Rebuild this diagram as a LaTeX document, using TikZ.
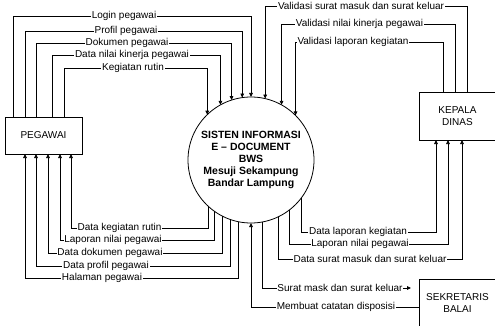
\documentclass[tikz,border=0pt]{standalone}
\usepackage{fontspec}
\setmainfont{Liberation Sans}
\usetikzlibrary{arrows.meta}
\begin{document}
\begin{tikzpicture}[x=1pt,y=-1pt,
  conn/.style={draw=black,line width=0.75pt},
  arr/.style={conn,-{Triangle[length=4pt,width=3.6pt]}},
  lbl/.style={fill=white,inner xsep=0.8pt,inner ysep=0pt,font=\fontsize{10}{11}\selectfont},
  ent/.style={draw,line width=0.8pt,inner sep=0pt,outer sep=0pt,minimum width=77pt,align=center,font=\fontsize{10}{12}\selectfont},
  proc/.style={draw,circle,line width=0.8pt,minimum size=126pt,inner sep=0pt,outer sep=0pt,align=center,font=\bfseries\fontsize{10.5}{12}\selectfont}]
\useasboundingbox (0,0) rectangle (495,326);

% entities and process
\node[ent,minimum height=37pt] (peg) at (43.5,135.5) {PEGAWAI};
\node[ent,minimum height=48pt] (kep) at (457.5,116) {KEPALA\\DINAS};
\node[ent,minimum height=48pt] (sek) at (457.5,303) {SEKRETARIS\\BALAI};
\node[proc] (circ) at (251,160) {SISTEN INFORMASI\\E -- DOCUMENT\\BWS\\Mesuji Sekampung\\Bandar Lampung};
\coordinate (sekin) at (411,288);

% PEGAWAI -> process (top)
\draw[arr] (peg.north -| 13,0) -- (13,16) -| (circ.90);
\draw[arr] (peg.north -| 25,0) -- (25,31) -| (circ.98.2);
\draw[arr] (peg.north -| 36,0) -- (36,43) -| (circ.108.5);
\draw[arr] (peg.north -| 52,0) -- (52,55) -| (circ.119.5);
\draw[arr] (peg.north -| 64,0) -- (64,68) -| (circ.134.3);

% KEPALA DINAS -> process (top)
\draw[arr] (kep.north -| 467,0) -- (467,6) -| (circ.77.2);
\draw[arr] (kep.north -| 455,0) -- (455,24) -| (circ.61.6);
\draw[arr] (kep.north -| 443,0) -- (443,42) -| (circ.45.7);

% process -> PEGAWAI (bottom)
\draw[arr] (circ.-133) |- (71,228) -- (peg.south -| 71,0);
\draw[arr] (circ.-126) |- (60,240) -- (peg.south -| 60,0);
\draw[arr] (circ.-117.4) |- (48,253) -- (peg.south -| 48,0);
\draw[arr] (circ.-109.5) |- (36,266) -- (peg.south -| 36,0);
\draw[arr] (circ.-102.8) |- (25,278) -- (peg.south -| 25,0);

% process -> KEPALA DINAS (bottom)
\draw[arr] (circ.-37.5) |- (436,232) -- (kep.south -| 436,0);
\draw[arr] (circ.-52.9) |- (448,244) -- (kep.south -| 448,0);
\draw[arr] (circ.-64.6) |- (462,259) -- (kep.south -| 462,0);

% process <-> SEKRETARIS BALAI
\draw[arr] (circ.-80.9) |- (sekin);
\draw[arr] (sek.west |- 0,307) -| (circ.-90);

% labels
\node[lbl] (t1) at (124,16) {Login pegawai};
\node[lbl] (t2) at (126,31) {Profil pegawai};
\node[lbl] (t3) at (127,43) {Dokumen pegawai};
\node[lbl] (t4) at (132,55) {Data nilai kinerja pegawai};
\node[lbl] (t5) at (133,68) {Kegiatan rutin};

\node[lbl] (v1) at (361,6) {Validasi surat masuk dan surat keluar};
\node[lbl] (v2) at (359.5,24) {Validasi nilai kinerja pegawai};
\node[lbl] (v3) at (353,42) {Validasi laporan kegiatan};

\node[lbl] (b1) at (119.5,228) {Data kegiatan rutin};
\node[lbl] (b2) at (113,240) {Laporan nilai pegawai};
\node[lbl] (b3) at (110,253) {Data dokumen pegawai};
\node[lbl] (b4) at (106,266) {Data profil pegawai};
\node[lbl] (b5) at (102,278) {Halaman pegawai};

\node[lbl] (k1) at (358,232) {Data laporan kegiatan};
\node[lbl] (k2) at (360,244) {Laporan nilai pegawai};
\node[lbl] (k3) at (370,259) {Data surat masuk dan surat keluar};

\node[lbl] (s1) at (340,288) {Surat mask dan surat keluar};
\node[lbl] (s2) at (336,307) {Membuat catatan disposisi};
\end{tikzpicture}
\end{document}
